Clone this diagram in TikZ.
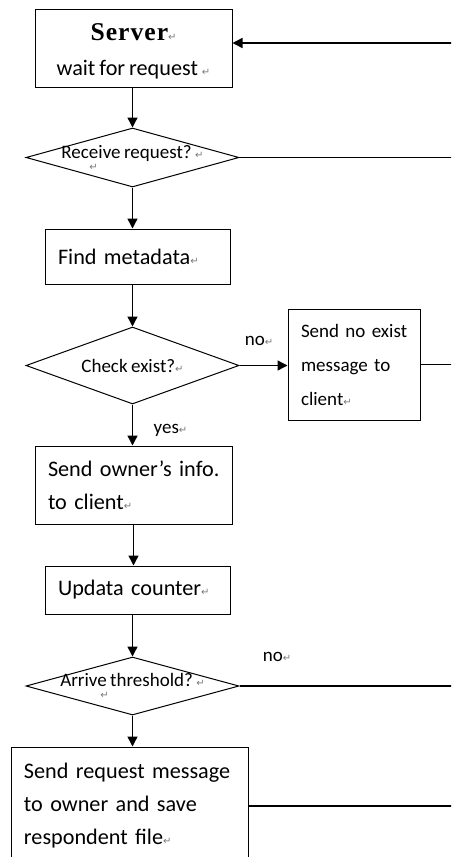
\documentclass[tikz,border=0pt]{standalone}
\usepackage{fontspec}
\setmainfont{Carlito}[WordSpace=0.8]
\newfontfamily\serverfont{Liberation Serif}[LetterSpace=4]
\newfontfamily\retfont{DejaVu Sans}
\usetikzlibrary{shapes.geometric,arrows.meta}
\definecolor{markgray}{RGB}{120,120,120}
\newcommand\pmark{{\retfont\color{markgray}\fontsize{5}{5}\selectfont ↵}}
\newcommand\bigtext{\fontsize{11.1}{16.5}\selectfont}
\newcommand\smalltext{\fontsize{9.5}{17}\selectfont}
\begin{document}
\begin{tikzpicture}[x=0.5pt,y=-0.5pt,
  box/.style={draw,line width=0.5pt,align=left,inner xsep=6.5pt,inner ysep=0pt,font=\bigtext},
  query/.style={draw,diamond,line width=0.5pt,inner sep=0pt,minimum width=106.5pt},
  qtext/.style={font=\fontsize{9.5}{11.5}\selectfont,align=left,inner sep=0pt},
  flow/.style={line width=0.7pt,-{Triangle[length=5pt,width=5pt]}},
  back/.style={line width=0.55pt},
  tag/.style={font=\smalltext,inner sep=0pt}]
\useasboundingbox (0,0) rectangle (451,857);
\clip (0,0) rectangle (451,857);

\node[box,align=center,minimum width=98.5pt,minimum height=39pt,font=\fontsize{11.1}{17.5}\selectfont] (server) at (133.5,48) {\rule{0pt}{12pt}{\serverfont\bfseries\fontsize{12.8}{12.8}\selectfont Server}\pmark\\wait for request~\pmark};
\node[query,minimum height=29.5pt,label={[qtext]center:{Receive request?~\pmark\\[-5.5pt]\hspace*{14pt}\pmark}}] (recv) at (132.5,157.5) {};
\node[box,text width=79.5pt,minimum height=27.5pt] (find) at (137.5,256.5) {Find metadata\pmark};
\node[query,minimum height=38.5pt,label={[qtext]center:{Check exist?\pmark}}] (check) at (132.5,365.5) {};
\node[box,text width=53pt,minimum height=55.5pt,font=\smalltext] (noexist) at (354,364.5) {\mbox{Send no exist}\\\mbox{message to}\\client\pmark};
\node[box,text width=85.5pt,minimum height=39pt] (owner) at (133.5,485) {\mbox{Send owner’s info.}\\to client\pmark};
\node[box,text width=79.5pt,minimum height=24pt] (upd) at (137.5,590) {Updata counter\pmark};
\node[query,minimum height=29pt,label={[qtext]center:{Arrive threshold?~\pmark\\[-5.5pt]\hspace*{20pt}\pmark}}] (thresh) at (132.5,686) {};
\node[box,text width=105.5pt,minimum height=59pt] (sendreq) at (129.5,806) {\mbox{Send request message}\\\mbox{to owner and save}\\respondent file\pmark};

\coordinate (in) at (460,43);
\coordinate (out1) at (460,158);
\coordinate (out2) at (460,366);
\coordinate (out3) at (460,684);
\coordinate (out4) at (460,805);

\draw[flow] (in) -- (in -| server.east);
\draw[flow] (server.south -| recv) -- (recv.north);
\draw[back] (recv.east) -- (recv.east -| out1);
\draw[flow] (recv.south) -- (recv.south |- find.north);
\draw[flow] (find.south -| check) -- (check.north);
\draw[flow] (check.east) -- node[tag,pos=0.41,yshift=12.25pt] (no1) {no\pmark} (check.east -| noexist.west);
\draw[back] (noexist.east) -- (noexist.east -| out2);
\draw[flow] (check.south) -- node[tag,pos=0.62,xshift=19pt] (yes) {yes\pmark} (check.south |- owner.north);
\draw[flow] (owner.south) -- (owner.south |- upd.north);
\draw[flow] (upd.south -| thresh) -- (thresh.north);
\draw[back] (thresh.east) -- node[tag,pos=0.17,yshift=14.5pt] (no2) {no\pmark} (thresh.east -| out3);
\draw[flow] (thresh.south) -- (thresh.south |- sendreq.north);
\draw[back] (sendreq.east) -- (sendreq.east -| out4);
\end{tikzpicture}
\end{document}
